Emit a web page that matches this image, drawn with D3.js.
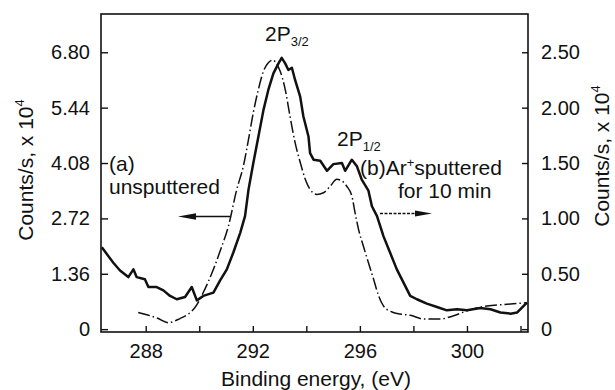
<!DOCTYPE html>
<html>
<head>
<meta charset="utf-8">
<script src="https://cdn.jsdelivr.net/npm/d3@7"></script>
<style>
    body { margin: 0; background: #fff; }
    text { font-family: "Liberation Sans", Arial, sans-serif; fill: #111; }
</style>
</head>
<body>
<div id="chart"></div>
<script>

// (a) unsputtered, dash-dot, left axis (counts/s x 10^4)
var energyA = [287.72, 288.16, 288.47, 288.84, 289.28, 289.59, 289.84, 290.15, 290.53, 290.78,
               291.09, 291.40, 291.65, 291.84, 292.02, 292.21, 292.40, 292.58, 292.75, 292.90,
               293.02, 293.21, 293.39, 293.58, 293.77, 293.96, 294.14, 294.39, 294.64, 294.89,
               295.14, 295.33, 295.51, 295.70, 295.82, 295.95, 296.13, 296.32, 296.51, 296.70,
               296.88, 297.20, 297.51, 297.88, 298.38, 299.00, 299.50, 300.00, 300.75, 301.50, 302.24];
var countsA = [0.41, 0.33, 0.26, 0.16, 0.26, 0.37, 0.53, 0.90, 1.47, 1.92,
               2.53, 3.43, 4.01, 4.66, 5.32, 5.89, 6.34, 6.54, 6.61, 6.50,
               6.34, 5.89, 5.23, 4.58, 4.10, 3.68, 3.43, 3.31, 3.35, 3.51,
               3.68, 3.64, 3.51, 3.27, 2.86, 2.45, 2.04, 1.63, 1.23, 0.82,
               0.57, 0.42, 0.37, 0.34, 0.25, 0.25, 0.33, 0.45, 0.57, 0.61, 0.65];

// (b) Ar+ sputtered 10 min, solid, right axis (counts/s x 10^4)
var energyB = [286.36, 286.54, 286.79, 287.04, 287.35, 287.54, 287.66, 287.97, 288.10, 288.41,
               288.66, 288.91, 289.16, 289.47, 289.72, 289.91, 290.15, 290.53, 290.78, 291.03,
               291.27, 291.53, 291.71, 291.84, 292.02, 292.21, 292.40, 292.58, 292.77, 292.96,
               293.08, 293.21, 293.33, 293.46, 293.58, 293.77, 293.89, 294.08, 294.14, 294.27,
               294.52, 294.77, 295.01, 295.33, 295.45, 295.70, 295.89, 296.07, 296.32, 296.45,
               296.64, 296.88, 297.13, 297.38, 297.63, 297.88, 298.13, 298.50, 298.88, 299.25,
               299.63, 300.00, 300.50, 300.88, 301.25, 301.63, 301.87, 302.24];
var countsB = [0.74, 0.68, 0.60, 0.53, 0.47, 0.54, 0.47, 0.45, 0.38, 0.38,
               0.35, 0.30, 0.27, 0.29, 0.38, 0.26, 0.30, 0.33, 0.44, 0.54,
               0.69, 0.87, 1.02, 1.26, 1.50, 1.74, 1.98, 2.16, 2.31, 2.40,
               2.45, 2.40, 2.34, 2.36, 2.25, 2.10, 1.92, 1.74, 1.59, 1.53,
               1.52, 1.43, 1.49, 1.50, 1.43, 1.53, 1.47, 1.35, 1.25, 1.11,
               1.02, 0.84, 0.69, 0.54, 0.42, 0.30, 0.27, 0.23, 0.20, 0.17,
               0.18, 0.17, 0.19, 0.18, 0.15, 0.14, 0.15, 0.24];

var xTicks = [288, 290, 292, 294, 296, 298, 300, 302];
var xLabels = [288, 292, 296, 300];
var leftTicks = [0, 1.36, 2.72, 4.08, 5.44, 6.80];
var rightTicks = [0, 0.5, 1.0, 1.5, 2.0, 2.5];

var margin = {top: 14, right: 87, bottom: 58, left: 101},
    width = 615 - margin.left - margin.right,
    height = 390 - margin.top - margin.bottom;

var svg = d3.select("#chart").append("svg")
    .attr("width", 615)
    .attr("height", 390);

var g = svg.append("g")
    .attr("transform", "translate(" + margin.left + "," + margin.top + ")");

var x = d3.scaleLinear().domain([286.33, 302.28]).range([0, width]);
var yL = d3.scaleLinear().domain([-0.07, 7.74]).range([height, 0]);
// right axis is the left one divided by 2.72 (6.80 <-> 2.50)
var yR = d3.scaleLinear().domain([-0.07 / 2.72, 7.74 / 2.72]).range([height, 0]);

// frame
g.append("rect")
    .attr("width", width)
    .attr("height", height)
    .attr("fill", "none")
    .attr("stroke", "#111")
    .attr("stroke-width", 1.6);

// axes, ticks pointing inward
var xAxis = d3.axisBottom(x).tickValues(xTicks).tickSizeInner(-6).tickSizeOuter(0).tickPadding(12)
    .tickFormat(function(d) { return xLabels.indexOf(d) >= 0 ? d : ""; });
var leftAxis = d3.axisLeft(yL).tickValues(leftTicks).tickSizeInner(-7).tickSizeOuter(0).tickPadding(11)
    .tickFormat(function(d) { return d === 0 ? "0" : d3.format(".2f")(d); });
var rightAxis = d3.axisRight(yR).tickValues(rightTicks).tickSizeInner(-6).tickSizeOuter(0).tickPadding(13)
    .tickFormat(function(d) { return d === 0 ? "0" : d3.format(".2f")(d); });

function styleAxis(sel) {
    sel.select(".domain").remove();
    sel.selectAll("line").attr("stroke", "#111").attr("stroke-width", 1.4);
    sel.selectAll("text").style("font-size", "20px").attr("fill", "#111");
}

g.append("g").attr("transform", "translate(0," + height + ")").call(xAxis).call(styleAxis);
g.append("g").call(leftAxis).call(styleAxis);
g.append("g").attr("transform", "translate(" + width + ",0)").call(rightAxis).call(styleAxis);

// curves
var lineA = d3.line()
    .x(function(d, i) { return x(energyA[i]); })
    .y(function(d) { return yL(d); })
    .curve(d3.curveMonotoneX);

var lineB = d3.line()
    .x(function(d, i) { return x(energyB[i]); })
    .y(function(d) { return yR(d); });

g.append("path")
    .attr("d", lineA(countsA))
    .attr("fill", "none")
    .attr("stroke", "#111")
    .attr("stroke-width", 1.5)
    .attr("stroke-dasharray", "12,3,1.5,3");

g.append("path")
    .attr("d", lineB(countsB))
    .attr("fill", "none")
    .attr("stroke", "#111")
    .attr("stroke-width", 2.5)
    .attr("stroke-linejoin", "round");

// axis titles
function countsTitle(tx, ty) {
    var t = svg.append("text")
        .attr("transform", "translate(" + tx + "," + ty + ") rotate(-90)")
        .attr("text-anchor", "middle")
        .style("font-size", "21px");
    t.append("tspan").text("Counts/s, x 10");
    t.append("tspan").attr("dy", -9).style("font-size", "13px").text("4");
}
countsTitle(33, 170);
countsTitle(609, 156);

svg.append("text")
    .attr("x", 316)
    .attr("y", 386)
    .attr("text-anchor", "middle")
    .style("font-size", "21px")
    .text("Binding energy, (eV)");

// peak labels
function peakLabel(px, py, sub) {
    var t = svg.append("text").attr("x", px).attr("y", py).style("font-size", "21px");
    t.append("tspan").text("2P");
    t.append("tspan").attr("dy", 5).style("font-size", "13px").text(sub);
}
peakLabel(265, 41, "3/2");
peakLabel(337, 146, "1/2");

// annotations
svg.append("text").attr("x", 109).attr("y", 171).style("font-size", "21px").text("(a)");
svg.append("text").attr("x", 109).attr("y", 194).style("font-size", "21px").text("unsputtered");

var tb = svg.append("text").attr("x", 360).attr("y", 175).style("font-size", "21px");
tb.append("tspan").text("(b)Ar");
tb.append("tspan").attr("dy", -8).style("font-size", "13px").text("+");
tb.append("tspan").attr("dy", 8).text("sputtered");
svg.append("text").attr("x", 398).attr("y", 198).style("font-size", "21px").text("for 10 min");

// arrows
svg.append("line")
    .attr("x1", 230).attr("y1", 216.5).attr("x2", 190).attr("y2", 216.5)
    .attr("stroke", "#111").attr("stroke-width", 1.3);
svg.append("path")
    .attr("d", "M178,216.5 L196,213.3 L196,219.7 Z")
    .attr("fill", "#111");

svg.append("line")
    .attr("x1", 380).attr("y1", 213.5).attr("x2", 420).attr("y2", 213.5)
    .attr("stroke", "#111").attr("stroke-width", 1.3)
    .attr("stroke-dasharray", "3,1.5");
svg.append("path")
    .attr("d", "M432,213.5 L415,210.4 L415,216.6 Z")
    .attr("fill", "#111");

</script>
</body>
</html>
